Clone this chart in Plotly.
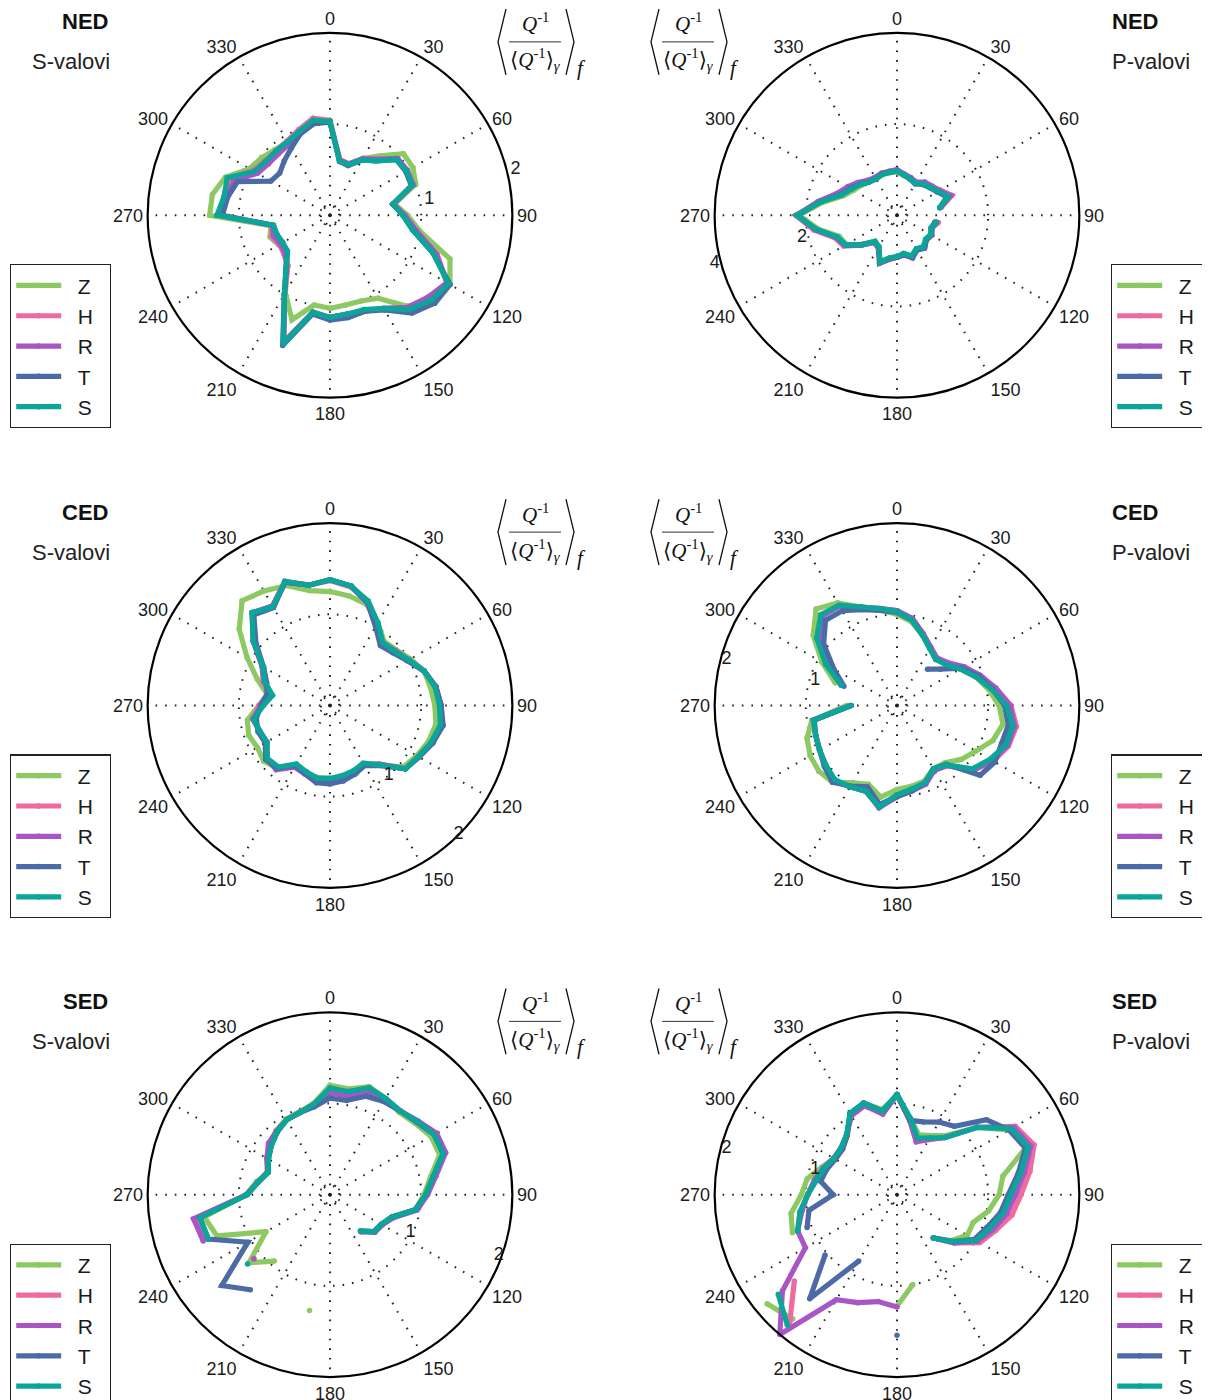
import plotly.graph_objects as go

W, H = 1210, 1400
OFF = 8  # page body margin in the browser
FONT = "Arial, Liberation Sans, sans-serif"
SERIF = "Liberation Serif, DejaVu Serif, serif"

THETA = list(range(0, 360, 10))
ANG_TICKS = list(range(0, 360, 30))
SERIES = ["Z", "H", "R", "T", "S"]
COLORS = {"Z": "#8DC963", "H": "#EF6B9F", "R": "#A855C5", "T": "#4C6BA6", "S": "#0BA59A"}
N = None
NB = "\u00a0"

# ---------------- NED, S-waves ----------------
NED_S = {
    "Z": [1.02,0.62,0.60,0.72,0.85,1.05,1.05,1.00,0.72,0.85,1.00,1.40,1.52,1.50,1.30,1.05,1.00,1.00,1.02,1.00,1.22,0.98,0.72,0.62,0.65,0.70,0.66,1.32,1.31,1.22,1.02,0.98,0.94,0.93,0.96,1.04],
    "H": [1.04,0.62,0.60,0.72,0.80,0.96,0.98,0.97,0.71,0.82,0.95,1.25,1.48,1.42,1.33,1.18,1.12,1.10,1.12,1.08,1.48,1.00,0.72,0.66,0.64,0.68,0.64,1.22,1.18,1.18,0.98,0.93,0.92,0.94,1.00,1.08],
    "R": [1.02,0.61,0.60,0.71,0.80,0.97,0.98,0.97,0.70,0.82,0.96,1.24,1.48,1.40,1.32,1.18,1.12,1.10,1.12,1.08,1.48,1.00,0.74,0.64,0.63,0.66,0.64,1.20,1.15,1.12,0.92,0.88,0.88,0.90,0.96,1.04],
    "T": [1.02,0.60,0.58,0.70,0.78,0.95,0.96,0.95,0.70,0.80,0.92,1.20,1.52,1.50,1.40,1.20,1.12,1.14,1.15,1.10,1.52,1.00,0.75,0.61,0.60,0.62,0.63,1.18,1.14,1.08,0.75,0.72,0.78,0.85,0.95,1.02],
    "S": [1.03,0.60,0.59,0.70,0.78,0.95,0.97,0.96,0.70,0.80,0.92,1.20,1.50,1.45,1.35,1.18,1.10,1.10,1.12,1.08,1.50,1.00,0.75,0.61,0.60,0.62,0.63,1.24,1.18,1.20,0.96,0.92,0.92,0.93,0.98,1.06],
}
# ---------------- NED, P-waves ----------------
NED_P = {
    "Z": [0.95,0.88,0.85,0.82,0.90,0.95,1.05,1.15,0.95,N,0.85,0.80,0.85,0.82,0.92,0.85,0.95,0.85,0.92,0.95,1.08,0.80,0.75,1.00,1.28,1.35,1.75,2.15,1.65,1.25,1.10,1.02,0.95,0.92,0.95,0.95],
    "H": [0.98,0.90,0.86,0.82,0.92,0.98,1.10,1.28,0.98,N,0.92,0.82,0.88,0.84,0.92,0.86,0.98,0.88,0.92,0.98,1.12,0.82,0.78,1.02,1.35,1.45,1.85,2.22,1.72,1.32,1.18,1.08,0.98,0.95,0.98,0.97],
    "R": [1.00,0.92,0.88,0.84,0.95,1.00,1.08,1.25,0.97,N,0.88,0.82,0.88,0.84,0.94,0.88,1.00,0.88,0.92,0.98,1.12,0.82,0.78,1.02,1.32,1.42,1.82,2.20,1.75,1.40,1.25,1.12,1.00,0.96,0.98,0.98],
    "T": [0.97,0.90,0.84,0.80,0.88,0.94,1.02,1.18,0.95,N,0.85,0.80,0.86,0.84,0.94,0.88,0.98,0.88,0.92,0.97,1.10,0.80,0.75,1.00,1.30,1.40,1.80,2.18,1.70,1.32,1.18,1.06,0.96,0.93,0.96,0.96],
    "S": [0.97,0.90,0.85,0.80,0.90,0.95,1.05,1.20,0.95,N,0.88,0.80,0.85,0.82,0.90,0.85,0.95,0.85,0.90,0.95,1.10,0.80,0.75,1.00,1.30,1.40,1.80,2.20,1.70,1.30,1.15,1.05,0.95,0.92,0.95,0.95],
}
# ---------------- CED, S-waves ----------------
CED_S = {
    "Z": [1.25,1.22,1.18,1.05,0.92,0.95,1.02,1.10,1.12,1.15,1.18,1.15,1.10,1.05,0.85,0.75,0.78,0.80,0.80,0.80,0.78,0.76,0.90,0.95,0.92,0.95,0.92,0.78,0.70,0.85,1.05,1.30,1.50,1.45,1.40,1.28],
    "H": [1.37,1.32,1.22,1.04,0.90,0.94,1.00,1.10,1.18,1.21,1.24,1.19,1.12,1.08,0.84,0.74,0.78,0.80,0.82,0.82,0.78,0.76,0.90,0.90,0.80,0.82,0.86,0.78,0.68,0.78,0.86,1.10,1.32,1.26,1.45,1.34],
    "R": [1.38,1.33,1.20,1.02,0.88,0.92,1.00,1.10,1.18,1.22,1.24,1.20,1.12,1.08,0.84,0.75,0.80,0.82,0.84,0.84,0.80,0.78,0.92,0.90,0.80,0.82,0.86,0.75,0.66,0.77,0.86,1.10,1.33,1.26,1.44,1.34],
    "T": [1.38,1.33,1.20,1.00,0.86,0.90,0.98,1.10,1.18,1.22,1.26,1.20,1.13,1.08,0.86,0.76,0.80,0.84,0.86,0.86,0.80,0.76,0.90,0.92,0.82,0.84,0.82,0.76,0.70,0.74,0.84,1.06,1.30,1.24,1.44,1.34],
    "S": [1.38,1.33,1.22,1.05,0.90,0.93,1.00,1.10,1.17,1.20,1.23,1.18,1.12,1.08,0.85,0.73,0.76,0.78,0.80,0.81,0.77,0.74,0.88,0.90,0.80,0.82,0.85,0.73,0.64,0.76,0.85,1.10,1.33,1.25,1.45,1.34],
}
# ---------------- CED, P-waves ----------------
CED_P = {
    "Z": [1.00,0.93,0.82,0.72,0.66,0.70,0.80,0.92,1.02,1.12,1.18,1.12,1.00,0.92,0.82,0.80,0.88,0.90,0.92,1.02,0.92,0.98,1.10,1.12,1.10,1.05,0.95,0.55,N,0.72,0.95,1.20,1.38,1.30,1.15,1.06],
    "H": [1.04,0.96,0.83,0.73,0.68,0.72,0.84,0.96,1.10,1.25,1.33,1.30,1.22,1.10,0.86,0.82,0.90,0.94,0.98,1.12,1.00,1.03,1.08,1.02,0.98,0.95,0.93,0.51,N,0.65,0.88,1.12,1.28,1.26,1.15,1.08],
    "R": [1.04,0.97,0.84,0.74,0.68,0.73,0.85,0.97,1.10,1.24,1.31,1.29,1.20,1.10,0.86,0.82,0.92,0.95,1.00,1.14,1.00,1.03,1.07,1.02,0.98,0.95,0.93,0.51,N,0.65,0.88,1.12,1.28,1.26,1.15,1.08],
    "T": [1.02,0.95,0.82,N,0.52,0.62,0.82,0.95,1.06,1.18,1.24,1.22,1.24,1.19,0.84,0.80,0.90,0.95,1.00,1.10,0.95,1.02,1.10,1.04,0.98,0.95,0.92,0.50,N,0.62,0.80,1.05,1.22,1.20,1.12,1.06],
    "S": [1.03,0.95,0.82,0.72,0.66,0.70,0.80,0.92,1.05,1.20,1.29,1.27,1.18,1.08,0.85,0.80,0.90,0.93,0.98,1.13,1.00,1.03,1.06,1.02,0.98,0.95,0.93,0.51,N,0.65,0.90,1.15,1.30,1.27,1.15,1.08],
}
# ---------------- SED, S-waves ----------------
SED_S = {
    "Z": [1.20,1.18,1.26,1.22,1.18,1.22,1.28,1.28,1.12,1.03,0.95,0.72,0.65,0.63,0.52,N,N,N,N,1.29,N,N,0.95,1.16,0.81,1.32,1.40,0.92,0.82,0.72,0.80,0.86,0.92,0.96,0.97,1.02],
    "H": [1.16,1.15,1.24,1.22,1.20,1.25,1.33,1.33,1.15,1.05,0.95,0.72,0.66,0.64,0.53,N,N,N,N,N,N,N,N,1.09,N,1.43,1.47,0.91,0.80,0.73,0.79,0.85,0.90,0.95,0.96,1.01],
    "R": [1.12,1.10,1.20,1.20,1.20,1.26,1.35,1.35,1.18,1.07,0.97,0.74,0.66,0.64,0.53,N,N,N,N,N,N,N,N,1.09,N,1.48,1.52,0.92,0.80,0.73,0.80,0.88,0.91,0.95,0.96,1.00],
    "T": [1.06,1.05,1.15,1.18,1.20,1.24,1.32,1.32,1.15,1.05,0.95,0.72,0.65,0.63,0.52,N,N,N,N,N,N,N,1.36,1.55,1.04,1.42,1.45,0.91,0.80,0.72,0.78,0.84,0.90,0.95,0.96,0.98],
    "S": [1.17,1.15,1.25,1.22,1.20,1.25,1.32,1.32,1.15,1.05,0.95,0.72,0.65,0.63,0.52,N,N,N,N,N,N,N,N,1.18,N,1.42,1.45,0.91,0.80,0.72,0.78,0.84,0.90,0.95,0.96,1.01],
}
# ---------------- SED, P-waves ----------------
SED_P = {
    "Z": [1.08,0.85,0.70,0.75,0.85,1.15,1.42,1.50,1.18,1.12,1.02,0.89,0.89,0.78,0.62,N,N,1.00,1.22,N,N,N,1.78,1.86,N,1.22,1.18,1.05,1.00,0.88,0.80,0.78,0.85,1.03,1.07,0.95],
    "H": [1.10,0.82,0.62,0.70,0.82,1.15,1.50,1.60,1.48,1.36,1.28,1.15,1.05,0.82,0.62,N,N,N,N,N,N,N,1.83,1.47,N,1.16,1.08,0.98,0.90,0.85,0.78,0.78,0.85,1.02,1.05,0.90],
    "R": [1.10,0.82,0.62,0.70,0.82,1.15,1.48,1.56,1.42,1.30,1.22,1.12,1.02,0.82,0.62,N,N,N,1.23,1.19,1.26,1.33,2.00,1.64,1.16,1.16,1.06,0.98,0.92,0.86,0.80,0.80,0.86,1.00,1.04,0.90],
    "T": [1.10,0.83,0.85,0.92,0.98,1.28,1.42,1.50,1.35,1.22,1.15,1.05,0.98,0.80,0.62,N,N,N,1.54,N,N,0.84,1.49,1.03,N,1.05,0.98,0.70,0.85,0.82,0.78,0.78,0.85,1.03,1.07,0.93],
    "S": [1.10,0.85,0.66,0.72,0.82,1.15,1.45,1.53,1.38,1.25,1.18,1.08,1.00,0.80,0.62,N,N,N,N,N,N,N,1.87,1.70,N,1.16,1.08,0.98,0.90,0.85,0.80,0.80,0.86,1.03,1.07,0.93],
}

PANELS = [
    # data, region, wave label, radial max, radial ticks, radial labels, radial label angle
    (NED_S, "NED", "S-valovi", 2, [0.1, 1, 2], ["", NB + "1", NB + "2"], 19),
    (NED_P, "NED", "P-valovi", 4, [0.2, 2, 4], ["", "2", "4"], 197),
    (CED_S, "CED", "S-valovi", 2, [0.1, 1, 2], ["", "1", "2"], -40),
    (CED_P, "CED", "P-valovi", 2, [0.1, 1, 2], ["", "1", "2"], 167),
    (SED_S, "SED", "S-valovi", 2, [0.1, 1, 2], ["", "1", "2"], -15),
    (SED_P, "SED", "P-valovi", 2, [0.1, 1, 2], ["", "1", "2"], 167),
]

CX = [330, 897]
CY = [216, 708, 1199]
RPX = 183

def px(x):
    return (x - OFF) / W

def py(y):
    return 1 - (y - OFF) / H

def norm_angle(a):
    return ((a + 180) % 360) - 180

fig = go.Figure()
layout = dict(
    width=W, height=H, paper_bgcolor="white", plot_bgcolor="white",
    margin=dict(l=0, r=0, t=0, b=0), showlegend=True,
)
annotations = []
shapes = []

for i, (data, region, wave, rmax, rticks, rlabels, rang) in enumerate(PANELS):
    row, col = divmod(i, 2)
    cx, cy = CX[col], CY[row]
    key = "polar" if i == 0 else f"polar{i+1}"
    lkey = "legend" if i == 0 else f"legend{i+1}"
    layout[key] = dict(
        domain=dict(x=[px(cx - RPX), px(cx + RPX)], y=[py(cy + RPX), py(cy - RPX)]),
        bgcolor="white",
        angularaxis=dict(
            rotation=90, direction="clockwise", tickmode="array",
            tickvals=ANG_TICKS, ticktext=[str(a) for a in ANG_TICKS],
            showline=True, linecolor="black", linewidth=2.2,
            showgrid=True, gridcolor="#222222", gridwidth=1.6, griddash="1.6px,8px",
            ticks="", tickfont=dict(size=18, family=FONT, color="#1a1a1a"),
        ),
        radialaxis=dict(
            range=[0, rmax], tickmode="array", tickvals=rticks, ticktext=rlabels,
            angle=rang, tickangle=norm_angle(rang), showline=False, ticks="",
            showgrid=True, gridcolor="#222222", gridwidth=1.6, griddash="1.6px,8px",
            tickfont=dict(size=18, family=FONT, color="#1a1a1a"),
        ),
    )
    for s in SERIES:
        vals = data[s]
        fig.add_trace(go.Scatterpolar(
            r=vals + [vals[0]], theta=THETA + [360], name=NB * 2 + s + NB * 2,
            mode="lines+markers", connectgaps=False,
            line=dict(color=COLORS[s], width=5.2),
            marker=dict(color=COLORS[s], size=5.5),
            subplot=key, legend=lkey, showlegend=True,
        ))
    # legend box
    lx = 10 if col == 0 else 1111
    ly = cy + 49
    layout[lkey] = dict(
        x=px(lx), y=py(ly), xanchor="left", yanchor="top",
        bgcolor="white", bordercolor="#222222", borderwidth=1.2,
        font=dict(size=21, family=FONT, color="#1a1a1a"),
        itemwidth=45, traceorder="normal", tracegroupgap=0,
    )
    # titles
    if col == 0:
        annotations.append(dict(x=px(110), y=py(cy - 194), text="<b>" + region + "</b>", xanchor="right",
                                yanchor="middle", showarrow=False, font=dict(size=22, family=FONT, color="#111")))
        annotations.append(dict(x=px(112), y=py(cy - 154), text=wave, xanchor="right",
                                yanchor="middle", showarrow=False, font=dict(size=22, family=FONT, color="#222")))
        mx = 535
    else:
        annotations.append(dict(x=px(1110), y=py(cy - 194), text="<b>" + region + "</b>", xanchor="left",
                                yanchor="middle", showarrow=False, font=dict(size=22, family=FONT, color="#111")))
        annotations.append(dict(x=px(1110), y=py(cy - 154), text=wave, xanchor="left",
                                yanchor="middle", showarrow=False, font=dict(size=22, family=FONT, color="#222")))
        mx = 688
    # radial-axis quantity label  < Q^-1 / <Q^-1>_gamma >_f
    top = cy - 216
    annotations.append(dict(x=px(mx), y=py(top + 23), text="<i>Q</i><sup>-1</sup>", xanchor="center",
                            yanchor="middle", showarrow=False, font=dict(size=21, family=SERIF, color="#111")))
    annotations.append(dict(x=px(mx), y=py(top + 60), text="⟨<i>Q</i><sup>-1</sup>⟩<sub><i>γ</i></sub>",
                            xanchor="center", yanchor="middle", showarrow=False,
                            font=dict(size=21, family=SERIF, color="#111")))
    annotations.append(dict(x=px(mx + 40), y=py(top + 68), text="<i>f</i>", xanchor="left",
                            yanchor="middle", showarrow=False, font=dict(size=21, family=SERIF, color="#111")))
    shapes.append(dict(type="line", xref="paper", yref="paper", x0=px(mx - 26), x1=px(mx + 26),
                       y0=py(top + 42), y1=py(top + 42), line=dict(color="#333", width=1)))
    shapes.append(dict(type="path", xref="paper", yref="paper",
                       path=f"M {px(mx-29)},{py(top+9)} L {px(mx-37)},{py(top+42)} L {px(mx-29)},{py(top+75)}",
                       line=dict(color="#111", width=1.3)))
    shapes.append(dict(type="path", xref="paper", yref="paper",
                       path=f"M {px(mx+31)},{py(top+9)} L {px(mx+39)},{py(top+42)} L {px(mx+31)},{py(top+75)}",
                       line=dict(color="#111", width=1.3)))

layout["annotations"] = annotations
layout["shapes"] = shapes
fig.update_layout(**layout)
fig.write_html("out.html")
